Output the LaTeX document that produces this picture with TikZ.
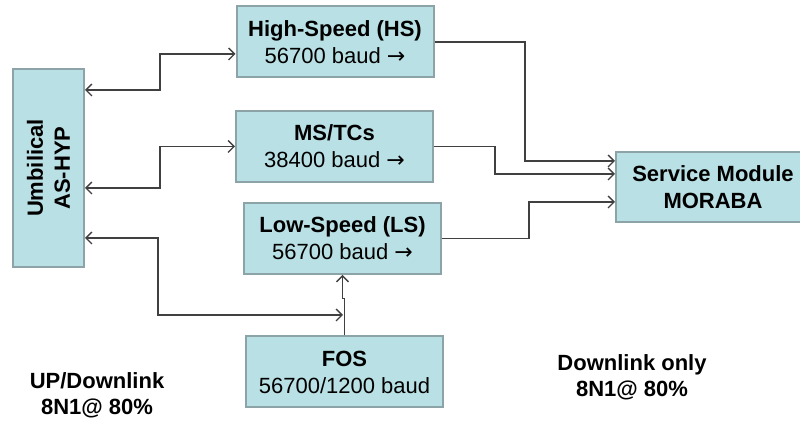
\documentclass[tikz,border=0pt]{standalone}
\usepackage{fontspec}
\setmainfont{Liberation Sans}
\newfontfamily\arrowfont{DejaVu Sans}
\usepackage{tikz}
\usetikzlibrary{positioning,arrows.meta,calc}

\definecolor{boxfill}{HTML}{B9E0E4}
\definecolor{boxline}{HTML}{8CA4A7}
\definecolor{wire}{HTML}{404040}
\newcommand{\outarrow}{{\arrowfont →}}

\begin{document}
\begin{tikzpicture}[
    x=0.5pt, y=-0.5pt,
    font=\fontsize{11}{13.5}\selectfont,
    unit/.style={draw=boxline, line width=1pt, fill=boxfill, align=center, minimum width=98.5pt, minimum height=35.5pt, inner sep=1pt},
    note/.style={align=center, font=\fontsize{11}{13}\selectfont\bfseries},
    link/.style={draw=wire, line width=0.7pt},
    feed/.style={link, -{Straight Barb[length=3pt, width=6pt]}},
    duplex/.style={link, {Straight Barb[length=3pt, width=6pt]}-{Straight Barb[length=3pt, width=6pt]}}
]
\useasboundingbox (0,0) rectangle (800,422);

\node[unit, rotate=90, minimum width=99pt, minimum height=35.5pt] (umb) at (48.5,168) {\bfseries Umbilical\\\bfseries AS-HYP};
\node[unit] (hs) at (335,42) {\bfseries High-Speed (HS)\\56700 baud \outarrow};
\node[unit] (ms) at (334.5,146.5) {\bfseries MS/TCs\\38400 baud \outarrow};
\node[unit] (ls) at (342.5,238.5) {\bfseries Low-Speed (LS)\\56700 baud \outarrow};
\node[unit] (fos) at (344.5,372) {\bfseries FOS\\56700/1200 baud};
\node[unit, minimum width=97pt, minimum height=35pt] (sm) at (713,187.5) {\bfseries Service Module\\\bfseries MORABA};

\node[note] (uplabel) at (97,395) {UP/Downlink\\8N1@ 80\%};
\node[note] (downlabel) at (632,377) {Downlink only\\8N1@ 80\%};

\coordinate (tap) at (343,315);

% umbilical side
\draw[duplex] (umb.south |- 0,90) -- (160,90) |- ([yshift=-6pt]hs.west);
\draw[duplex] (umb.south |- 0,188) -- (160,188) |- (ms.west);
\draw[duplex] (umb.south |- 0,238) -- (158,238) |- (tap);
\draw[feed] (fos.north) -- ++(0,-37) -| (ls.south);

% service module side
\draw[feed] (hs.east) -- (525,42) |- (sm.west |- 0,161);
\draw[feed] (ms.east) -- (495,146.5) |- (sm.west |- 0,174);
\draw[feed] (ls.east) -- (529,238.5) |- (sm.west |- 0,202);
\end{tikzpicture}
\end{document}
